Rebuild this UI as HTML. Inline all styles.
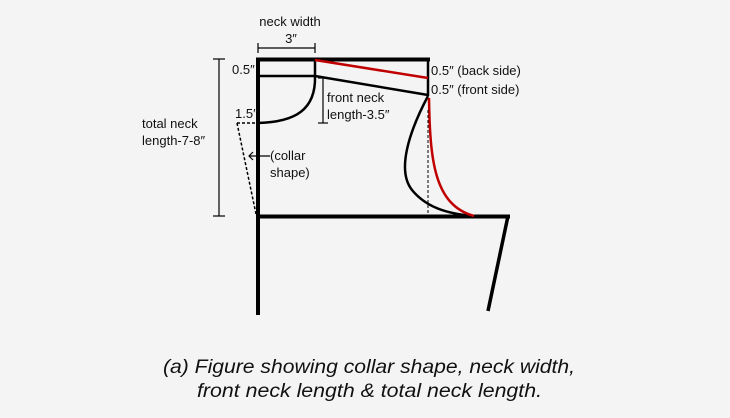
<!DOCTYPE html>
<html><head><style>
html,body{margin:0;padding:0;background:#f4f4f4;}
svg{display:block;}
text{font-family:"Liberation Sans",sans-serif;fill:#111;}
</style></head><body>
<svg width="730" height="418" viewBox="0 0 730 418" xmlns="http://www.w3.org/2000/svg">
<rect width="730" height="418" fill="#f4f4f4"/>
<g fill="none" stroke="#000" stroke-linecap="butt">
<line x1="256" y1="59.5" x2="430" y2="59.5" stroke-width="4"/>
<line x1="258" y1="58" x2="258" y2="315" stroke-width="4"/>
<line x1="256" y1="216.5" x2="510" y2="216.5" stroke-width="4"/>
<line x1="508" y1="216" x2="488" y2="311" stroke-width="3.5"/>
<line x1="428" y1="59" x2="428" y2="96" stroke-width="2.5"/>
<line x1="258" y1="76" x2="315" y2="76" stroke-width="2.5"/>
<line x1="315" y1="59" x2="315" y2="76" stroke-width="2.5"/>
<path d="M315 76 C316 110 295 122 258 123" stroke-width="2.5"/>
<line x1="315" y1="76" x2="428" y2="95" stroke-width="2.5"/>
<line x1="315" y1="60" x2="428" y2="78" stroke="#c00000" stroke-width="2.5"/>
<path d="M428 96 C410 130 396 170 412 190 C425 206 445 214 475 216" stroke-width="2.5"/>
<path d="M429 98 C430 160 434 205 474 216" stroke="#c00000" stroke-width="2.5"/>
<line x1="428" y1="110" x2="428" y2="215" stroke-width="1" stroke-dasharray="3,2"/>
<line x1="237" y1="123" x2="256" y2="123" stroke-width="1.5" stroke-dasharray="3,2"/>
<line x1="237" y1="123" x2="256" y2="214" stroke-width="1.5" stroke-dasharray="3,2"/>
<g stroke-width="1.2">
<line x1="219" y1="59" x2="219" y2="216"/>
<line x1="213" y1="59" x2="225" y2="59"/>
<line x1="213" y1="216" x2="225" y2="216"/>
<line x1="258" y1="48" x2="315" y2="48"/>
<line x1="258" y1="43" x2="258" y2="53"/>
<line x1="315" y1="43" x2="315" y2="53"/>
<line x1="323" y1="78" x2="323" y2="123"/>
<line x1="318" y1="78" x2="328" y2="78"/>
<line x1="318" y1="123" x2="328" y2="123"/>
<line x1="249" y1="156" x2="270" y2="156"/>
<path d="M253 152 L249 156 L253 160"/>
</g>
</g>
<g font-size="13">
<text x="290" y="26" text-anchor="middle">neck width</text>
<text x="291" y="43" text-anchor="middle">3″</text>
<text x="232" y="74">0.5″</text>
<text x="235" y="118">1.5″</text>
<text x="142" y="128">total neck</text>
<text x="142" y="145">length-7-8″</text>
<text x="270" y="160">(collar</text>
<text x="270" y="177">shape)</text>
<text x="327" y="102">front neck</text>
<text x="327" y="119">length-3.5″</text>
<text x="431" y="75">0.5″ (back side)</text>
<text x="431" y="94">0.5″ (front side)</text>
</g>
<g font-size="19" font-style="italic">
<text x="163" y="373" textLength="412" lengthAdjust="spacingAndGlyphs">(a) Figure showing collar shape, neck width,</text>
<text x="197" y="397" textLength="345" lengthAdjust="spacingAndGlyphs">front neck length &amp; total neck length.</text>
</g>
</svg>
</body></html>
